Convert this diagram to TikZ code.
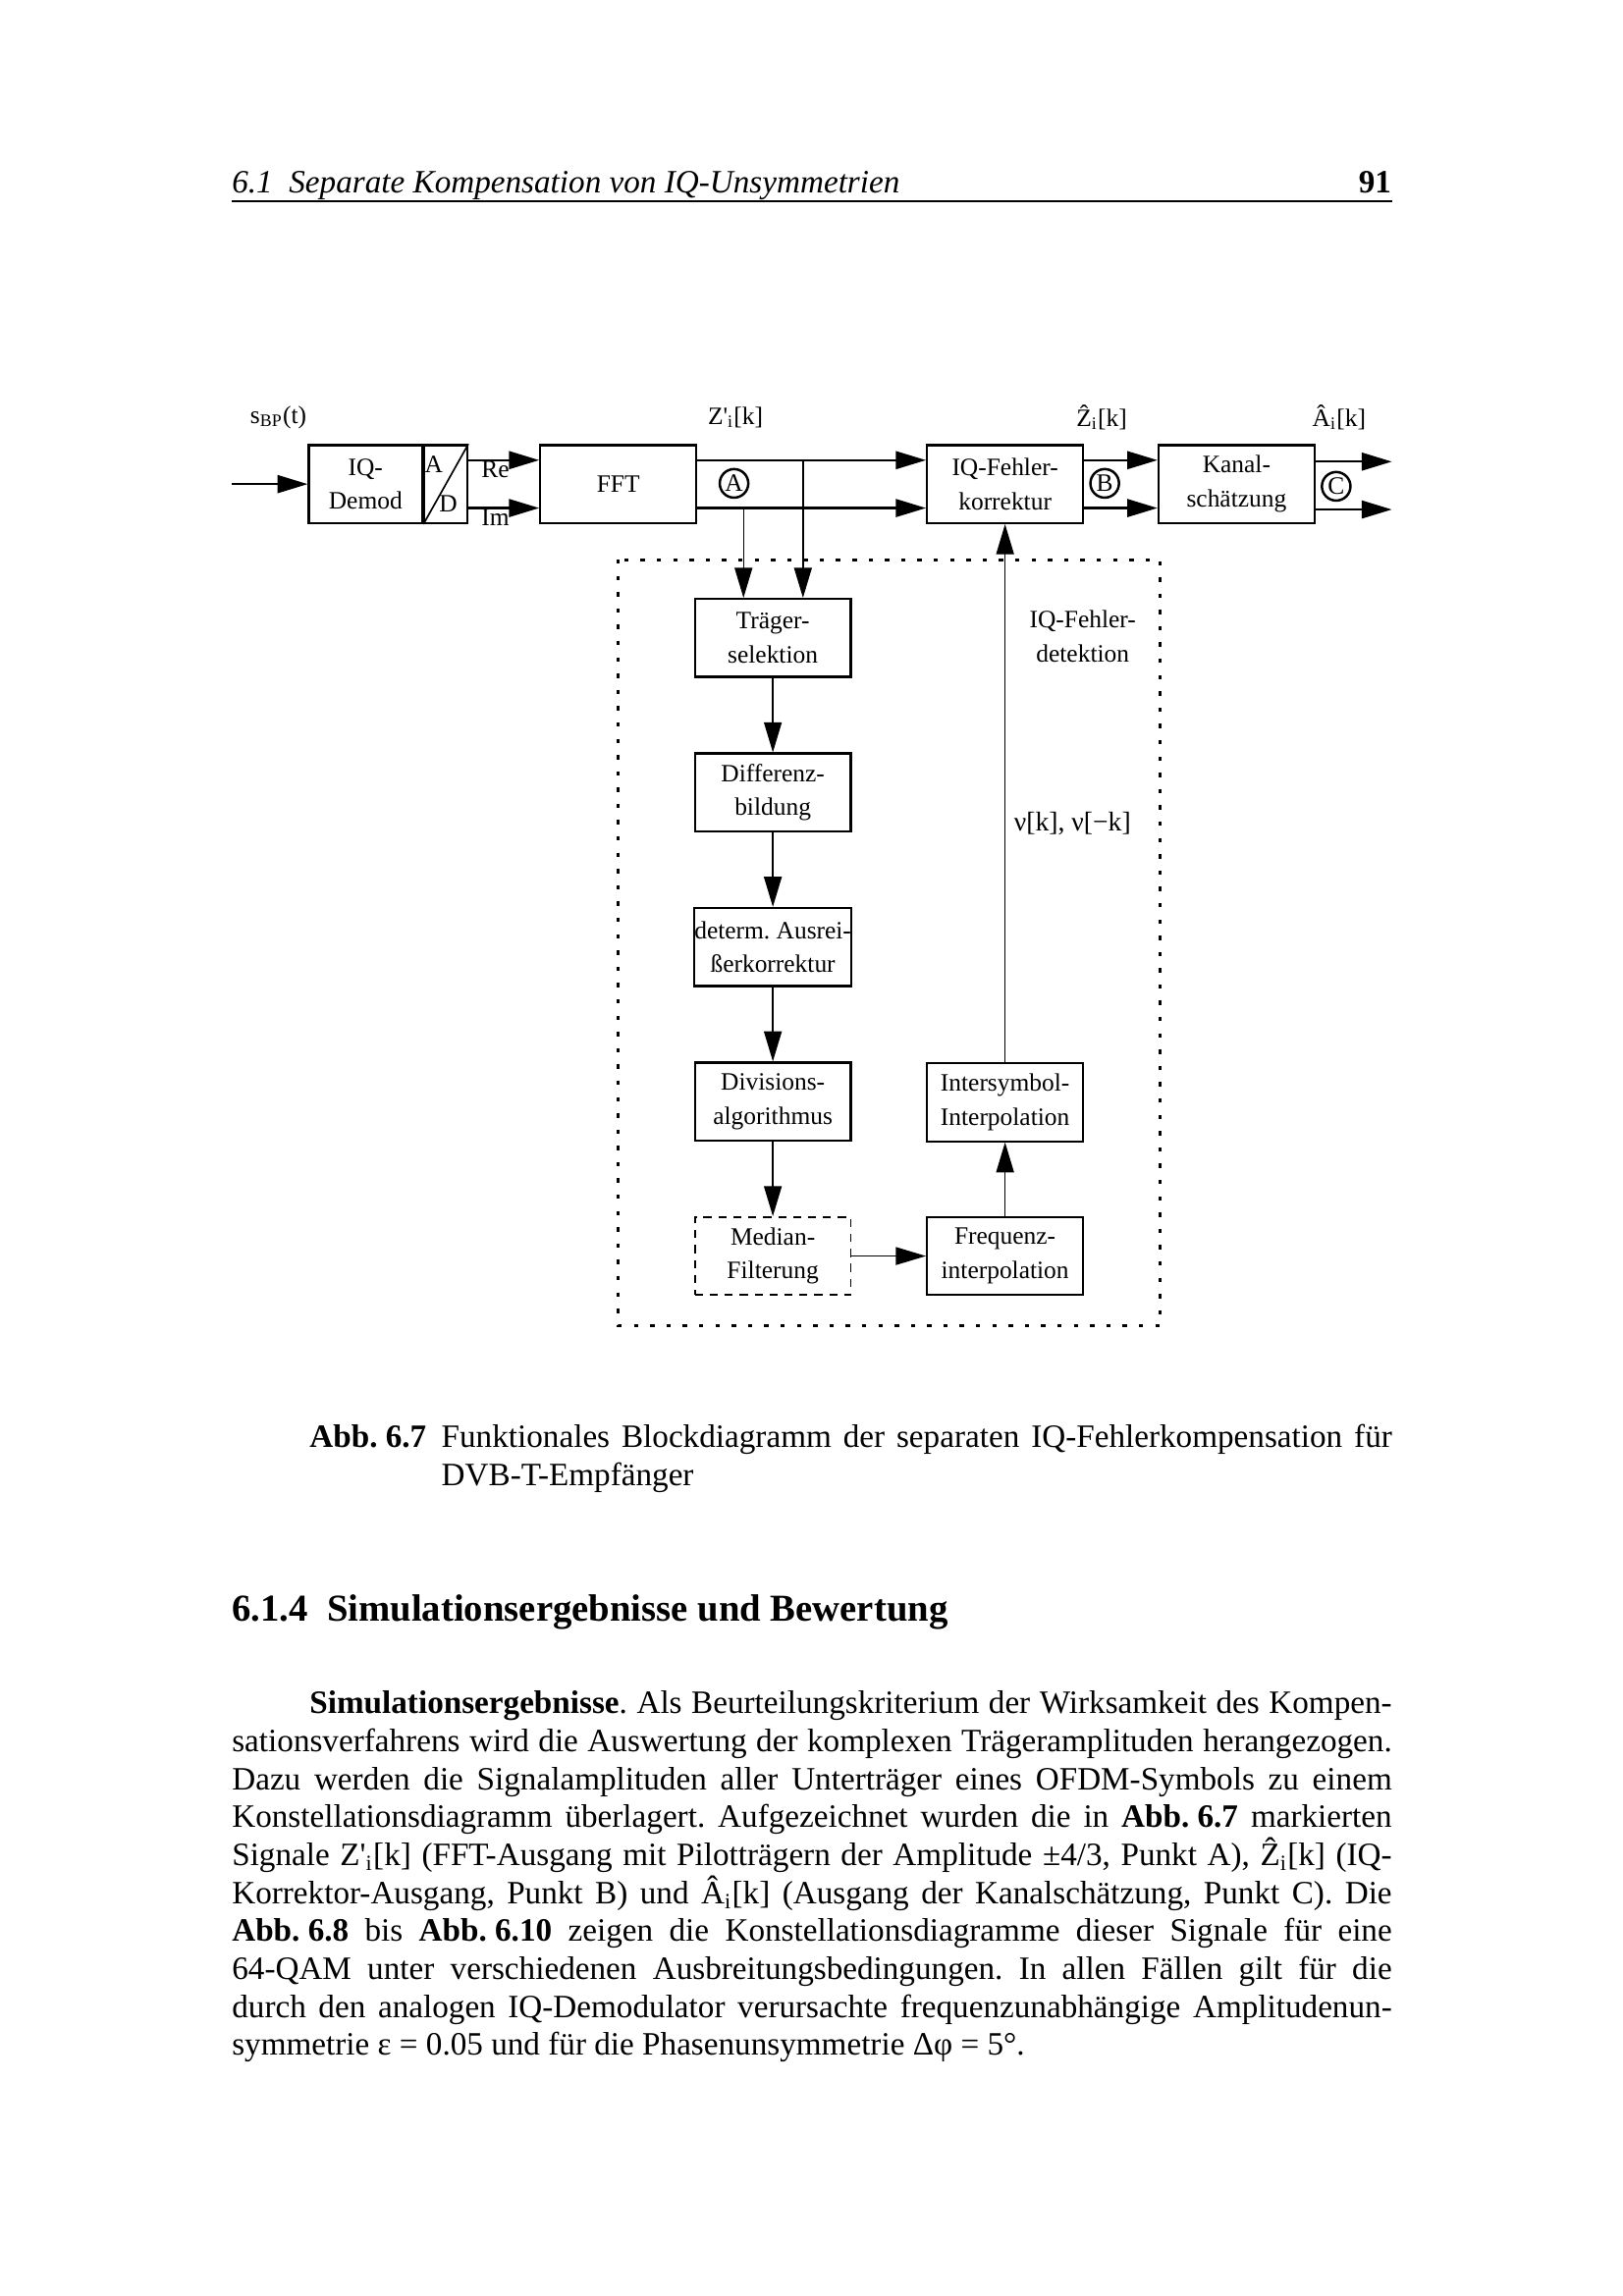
\documentclass[tikz,border=0pt]{standalone}
\usepackage{fontspec}
\setmainfont{Liberation Serif}
\usetikzlibrary{arrows.meta,calc,positioning}
\tikzset {>={Triangle[length=3.9mm,width=2.3mm]}}
\frenchspacing
\newcommand*{\dgf}{\fontsize{9.2}{12.5}\selectfont}
\newcommand*{\btf}{\fontsize{12}{14}\selectfont}
\newcommand*{\hdf}{\fontsize{14}{16}\selectfont\bfseries}
\newcommand*{\abb}[1]{\textbf{Abb.\hspace{.25em}#1}}
\begin{document}
\begin{tikzpicture}[x=0.01896cm,y=-0.01896cm,
  blk/.style={draw,line width=.8pt,minimum width=2.02cm,minimum height=1.01cm,inner sep=0pt,align=center,font=\dgf},
  lbl/.style={inner sep=0pt,align=center,font=\dgf},
  pkt/.style={circle,draw,line width=.9pt,minimum size=.37cm,inner sep=0pt,font=\dgf},
  sig/.style={->,line width=.8pt},
  con/.style={->,line width=.5pt},
  frame/.style={line width=1.1pt,dash pattern=on 1.6pt off 4.4pt},
  txt/.style={anchor=base west,inner sep=0pt,font=\btf}]
\useasboundingbox (0,0) rectangle (1107.6,1567.5);
% Kopfzeile
\node[txt,font=\btf\itshape] (H) at (158,132) {6.1\enspace Separate Kompensation von IQ-Unsymmetrien};
\node[txt,anchor=base east,font=\btf\bfseries] (S) at (950,132) {91};
\draw[line width=.5pt] (158,137.5) -- (950,137.5);
% Signalpfad oben
\node[lbl] (sBP) at (190,285) {s\textsubscript{BP}(t)};
\node[lbl] (Zs) at (502,285) {Z\textquotesingle\textsubscript{i}[k]};
\node[lbl] (Zh) at (752,285) {\^{Z}\textsubscript{i}[k]};
\node[lbl] (Ah) at (914,285) {\^{A}\textsubscript{i}[k]};
\node[blk,minimum width=1.47cm] (IQD) at (249.5,330.5) {IQ-\\Demod};
\node[blk,minimum width=.554cm,right=0pt of IQD] (AD) {};
\draw[line width=.6pt] (AD.south west) -- (AD.north east);
\node[lbl] (AA) at (296,317) {A};
\node[lbl] (DD) at (306,344) {D};
\node[blk] (FFT) at (422,330.5) {FFT};
\node[blk] (IQK) at (686,330.5) {IQ-Fehler-\\korrektur};
\node[blk] (KS) at (844,330.5) {Kanal-\\schätzung};
\coordinate (In) at (158,330.5);
\coordinate (Out) at (950,331.5);
\draw[sig] (In) -- (IQD);
\draw[sig] ([yshift=3.1mm]AD.east) -- node[lbl,below,pos=.38] {Re} ([yshift=3.1mm]FFT.west);
\draw[sig] ([yshift=-3.1mm]AD.east) -- node[lbl,below,pos=.38] {Im} ([yshift=-3.1mm]FFT.west);
\foreach \s in {3.1mm,-3.1mm} {
  \draw[sig] ([yshift=\s]FFT.east) -- ([yshift=\s]IQK.west);
  \draw[sig] ([yshift=\s]IQK.east) -- ([yshift=\s]KS.west);
  \draw[sig] ([yshift=\s]KS.east |- Out) -- ([yshift=\s]Out);
}
\node[pkt] (A) at (501,330) {A};
\node[pkt] (B) at (754,330) {B};
\node[pkt] (C) at (912,332) {C};
% IQ-Fehlerdetektion
\draw[frame] (422,382) rectangle (792,905);
\foreach \n/\t [count=\i] in {TS/{Träger-\\selektion},DB/{Differenz-\\bildung},AK/{determ. Ausrei-\\ßerkorrektur},DA/{Divisions-\\algorithmus}}
  \node[blk] (\n) at (527.5,{330+105.5*\i}) {\t};
\node[blk,line width=.6pt,dash pattern=on 3pt off 2.5pt] (MF) at (527.5,857.5) {Median-\\Filterung};
\node[blk] (ISI) at (686,752.5) {Intersymbol-\\Interpolation};
\node[blk] (FI) at (686,857.5) {Frequenz-\\interpolation};
\coordinate (Up) at ([yshift=3.1mm]FFT.east);
\coordinate (Lo) at ([yshift=-3.1mm]FFT.east);
\coordinate (TL) at ([xshift=-3.8mm]TS.north);
\coordinate (TR) at ([xshift=3.9mm]TS.north);
\draw[con] (TL |- Lo) -- (TL);
\draw[con] (TR |- Up) -- (TR);
\foreach \a/\b in {TS/DB,DB/AK,AK/DA,DA/MF,MF/FI,FI/ISI}
  \draw[con] (\a) -- (\b);
\draw[con] (ISI) -- (IQK);
\node[lbl] (DET) at (739,434.5) {IQ-Fehler-\\detektion};
\node[lbl,font=\fontsize{10}{12}\selectfont] (NU) at (732,562) {ν[k], ν[−k]};
% Bildunterschrift
\node[txt,font=\btf\bfseries] (Abb) at (211,988) {Abb.\hspace{.25em}6.7};
\node[txt] (Cap1) at (301,988) {\makebox[12.305cm][s]{Funktionales Blockdiagramm der separaten IQ-Fehlerkompensation für}};
\node[txt] (Cap2) at (301,1014) {DVB-T-Empfänger};
% Abschnitt
\node[txt,font=\hdf] (Sec) at (158,1107) {6.1.4\enspace Simulationsergebnisse und Bewertung};
\node[txt] (L1) at (211,1170) {\makebox[14.01cm][s]{\textbf{Simulationsergebnisse}. Als Beurteilungskriterium der Wirksamkeit des Kompen-}};
\foreach \l [count=\i] in {
  {sationsverfahrens wird die Auswertung der komplexen Trägeramplituden herangezogen.},
  {Dazu werden die Signalamplituden aller Unterträger eines OFDM-Symbols zu einem},
  {Konstellationsdiagramm überlagert. Aufgezeichnet wurden die in \abb{6.7} markierten},
  {Signale Z\textquotesingle\textsubscript{i}[k] (FFT-Ausgang mit Pilotträgern der Amplitude ±4/3, Punkt A), \^{Z}\textsubscript{i}[k] (IQ-},
  {Korrektor-Ausgang, Punkt B) und \^{A}\textsubscript{i}[k] (Ausgang der Kanalschätzung, Punkt C). Die},
  {\abb{6.8} bis \abb{6.10} zeigen die Konstellationsdiagramme dieser Signale für eine},
  {64-QAM unter verschiedenen Ausbreitungsbedingungen. In allen Fällen gilt für die},
  {durch den analogen IQ-Demodulator verursachte frequenzunabhängige Amplitudenun-}}
  \node[txt] at (158,{1170+25.9*\i}) {\makebox[15.016cm][s]{\l}};
\node[txt] (L10) at (158,1403) {symmetrie ε = 0.05 und für die Phasenunsymmetrie Δφ = 5°.};
\end{tikzpicture}
\end{document}
